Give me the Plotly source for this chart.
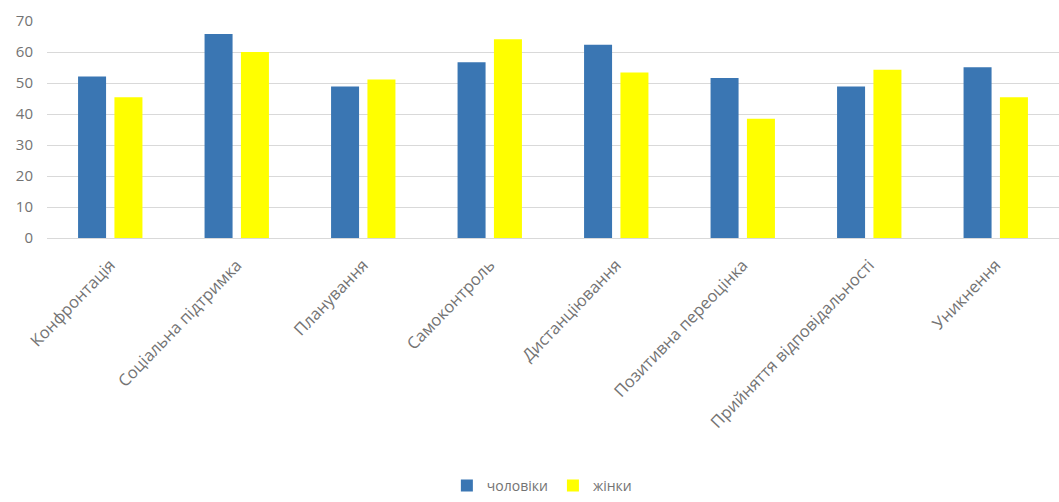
import plotly.graph_objects as go

categories = ["Конфронтація", "Соціальна підтримка", "Планування", "Самоконтроль",
              "Дистанціювання", "Позитивна переоцінка", "Прийняття відповідальності", "Уникнення"]
men = [52.1, 65.8, 48.9, 56.7, 62.3, 51.6, 48.9, 55.1]
women = [45.4, 60.0, 51.1, 64.1, 53.4, 38.5, 54.3, 45.4]
series_names = ["чоловіки", "жінки"]
y_ticks = [0, 10, 20, 30, 40, 50, 60, 70]

font_family = "'Open Sans', Lato, sans-serif"
text_color = "#737373"

fig = go.Figure()
fig.add_trace(go.Bar(x=categories, y=men, name=series_names[0],
                     marker=dict(color="#3a76b3", line=dict(width=0))))
fig.add_trace(go.Bar(x=categories, y=women, name=series_names[1],
                     marker=dict(color="#ffff00", line=dict(width=0))))

fig.update_layout(
    width=1059, height=502,
    margin=dict(l=47, r=0, t=21, b=263),
    paper_bgcolor="white", plot_bgcolor="white",
    barmode="group", bargap=0.425, bargroupgap=0.23,
    font=dict(family=font_family, color=text_color, size=14),
    showlegend=True,
    legend=dict(orientation="h", x=0.489, xanchor="center", y=-1.14, yanchor="middle",
                font=dict(size=14, color=text_color), itemwidth=30,
                traceorder="normal"),
    xaxis=dict(tickangle=-46, tickfont=dict(size=16.5, color=text_color),
               showgrid=False, showline=True, linecolor="#d9d9d9", linewidth=1,
               ticks="", ticklabelstandoff=10),
    yaxis=dict(range=[0, 70], tickvals=y_ticks, showgrid=True, gridcolor="#d9d9d9",
               gridwidth=1, zeroline=False, tickfont=dict(size=15, color=text_color),
               ticks="", ticklabelstandoff=13),
)

fig.write_html("out.html")
